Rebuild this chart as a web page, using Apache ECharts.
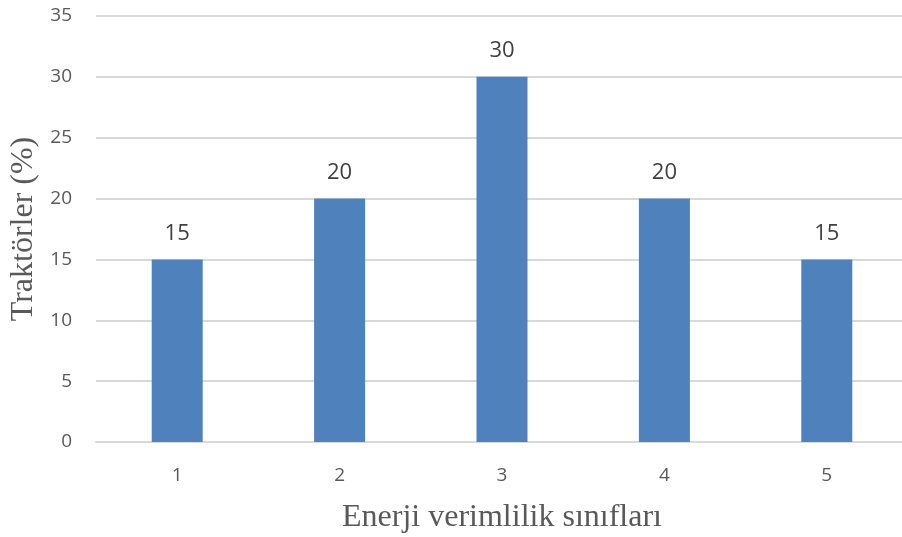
<!DOCTYPE html>
<html><head><meta charset="utf-8">
<script src="https://cdn.jsdelivr.net/npm/echarts@6/dist/echarts.min.js"></script>
<style>html,body{margin:0;padding:0;background:#fff}#c{width:902px;height:537px}</style>
</head><body><div id="c"></div>
<script>
const categories = ['1','2','3','4','5'];
const values = [15,20,30,20,15];
const yTitle = 'Traktörler (%)';
const xTitle = 'Enerji verimlilik sınıfları';

const chart = echarts.init(document.getElementById('c'));
chart.setOption({
  animation:false,
  grid:{left:96,right:-6,top:16,bottom:95,containLabel:false,outerBoundsMode:'none'},
  xAxis:{type:'category',data:categories,
    axisLine:{show:true,lineStyle:{color:'#d9d9d9',width:2}},
    axisTick:{show:false},
    axisLabel:{color:'#595959',fontFamily:'Open Sans',fontSize:19,margin:24},
    name:xTitle,nameLocation:'middle',nameGap:60,
    nameTextStyle:{fontFamily:'Liberation Serif',fontSize:32,color:'#595959'}
  },
  yAxis:{type:'value',min:0,max:35,interval:5,
    axisLine:{show:false},axisTick:{show:false},
    splitLine:{lineStyle:{color:'#d9d9d9',width:2}},
    axisLabel:{color:'#595959',fontFamily:'Open Sans',fontSize:19,margin:24},
    name:yTitle,nameLocation:'middle',nameGap:55,
    nameTextStyle:{fontFamily:'Liberation Serif',fontSize:32,color:'#595959'}
  },
  series:[{type:'bar',data:values,barWidth:51,
    itemStyle:{color:'#4f81bd'},
    label:{show:true,position:'top',distance:15,color:'#404040',fontFamily:'Open Sans',fontSize:22}
  }]
});
</script></body></html>
